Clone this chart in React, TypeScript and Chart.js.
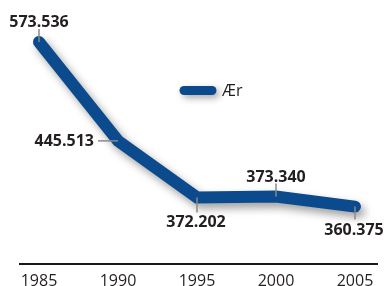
import React, { useEffect, useRef } from "react";
import { Chart, registerables } from "chart.js";

Chart.register(...registerables);

const years = ["1985", "1990", "1995", "2000", "2005"];
const values = [573.536, 445.513, 372.202, 373.34, 360.375];
const valueLabels = ["573.536", "445.513", "372.202", "373.340", "360.375"];
const labelPlacement = ["top", "left", "bottom", "top", "bottomRight"];
const seriesName = "Ær";

const LINE_COLOR = "#0b4a8c";
const TEXT_COLOR = "#231f20";
const FONT = "'Open Sans', sans-serif";

const shadowPlugin = {
  id: "shadow",
  beforeDatasetsDraw(chart: any) {
    const ctx = chart.ctx;
    ctx.save();
    ctx.shadowColor = "rgba(0,0,0,0.38)";
    ctx.shadowBlur = 9;
    ctx.shadowOffsetX = 4;
    ctx.shadowOffsetY = 5;
  },
  afterDatasetsDraw(chart: any) {
    chart.ctx.restore();
  },
};

const decorPlugin = {
  id: "decor",
  afterDraw(chart: any) {
    const ctx = chart.ctx;
    const area = chart.chartArea;
    // axis line
    ctx.save();
    ctx.strokeStyle = "#1a1a1a";
    ctx.lineWidth = 2;
    ctx.beginPath();
    ctx.moveTo(19, area.bottom);
    ctx.lineTo(378, area.bottom);
    ctx.stroke();
    ctx.restore();

    // legend
    ctx.save();
    ctx.shadowColor = "rgba(0,0,0,0.35)";
    ctx.shadowBlur = 7;
    ctx.shadowOffsetX = 3;
    ctx.shadowOffsetY = 3;
    ctx.strokeStyle = LINE_COLOR;
    ctx.lineWidth = 9;
    ctx.lineCap = "round";
    ctx.beginPath();
    ctx.moveTo(184, 90.5);
    ctx.lineTo(212, 90.5);
    ctx.stroke();
    ctx.restore();
    ctx.save();
    ctx.fillStyle = TEXT_COLOR;
    ctx.font = `400 16px ${FONT}`;
    ctx.textBaseline = "middle";
    ctx.textAlign = "left";
    ctx.fillText(chart.data.datasets[0].label, 222, 91);
    ctx.restore();

    // value labels with leader lines
    const meta = chart.getDatasetMeta(0);
    ctx.save();
    ctx.font = `700 16px ${FONT}`;
    ctx.fillStyle = TEXT_COLOR;
    meta.data.forEach((pt: any, i: number) => {
      const x = pt.x;
      const y = pt.y;
      const place = labelPlacement[i];
      ctx.strokeStyle = "#8a8a8a";
      ctx.lineWidth = 1.5;
      ctx.beginPath();
      let tx = x, ty = y;
      if (place === "top") {
        ctx.moveTo(x, y);
        ctx.lineTo(x, y - 13);
        ctx.textAlign = "center";
        ctx.textBaseline = "alphabetic";
        tx = x;
        ty = y - 15;
      } else if (place === "left") {
        ctx.moveTo(x, y);
        ctx.lineTo(x - 20, y);
        ctx.textAlign = "right";
        ctx.textBaseline = "middle";
        tx = x - 24;
        ty = y + 1;
      } else if (place === "bottom") {
        ctx.moveTo(x, y);
        ctx.lineTo(x, y + 15);
        ctx.textAlign = "center";
        ctx.textBaseline = "alphabetic";
        tx = x - 1;
        ty = y + 30;
      } else {
        ctx.moveTo(x, y);
        ctx.lineTo(x, y + 13);
        ctx.textAlign = "center";
        ctx.textBaseline = "alphabetic";
        tx = x - 1;
        ty = y + 28;
      }
      ctx.stroke();
      ctx.fillText(valueLabels[i], tx, ty);
    });
    ctx.restore();
  },
};

export default function App() {
  const ref = useRef<HTMLCanvasElement>(null);
  useEffect(() => {
    document.body.style.margin = "0";
    const chart = new Chart(ref.current!, {
      type: "line",
      data: {
        labels: years,
        datasets: [
          {
            label: seriesName,
            data: values,
            borderColor: LINE_COLOR,
            backgroundColor: LINE_COLOR,
            borderWidth: 12,
            borderCapStyle: "round",
            borderJoinStyle: "miter",
            pointRadius: 0,
            tension: 0,
            clip: false as any,
          },
        ],
      },
      options: {
        responsive: false,
        animation: false,
        layout: { autoPadding: false, padding: { left: 39, right: 33, top: 0, bottom: 0 } },
        plugins: { legend: { display: false }, tooltip: { enabled: false } },
        scales: {
          x: {
            offset: false,
            grid: { display: false, drawTicks: false },
            border: { display: false },
            ticks: {
              color: TEXT_COLOR,
              font: { family: FONT, size: 16 },
              padding: 8,
              maxRotation: 0,
            },
            afterFit(scale: any) {
              scale.height = 22;
            },
          },
          y: { display: false, min: 286, max: 628 },
        },
      },
      plugins: [shadowPlugin, decorPlugin],
    });
    return () => chart.destroy();
  }, []);
  return (
    <div style={{ width: 388, height: 286 }}>
      <canvas ref={ref} width={388} height={286} style={{ width: 388, height: 286 }} />
    </div>
  );
}
